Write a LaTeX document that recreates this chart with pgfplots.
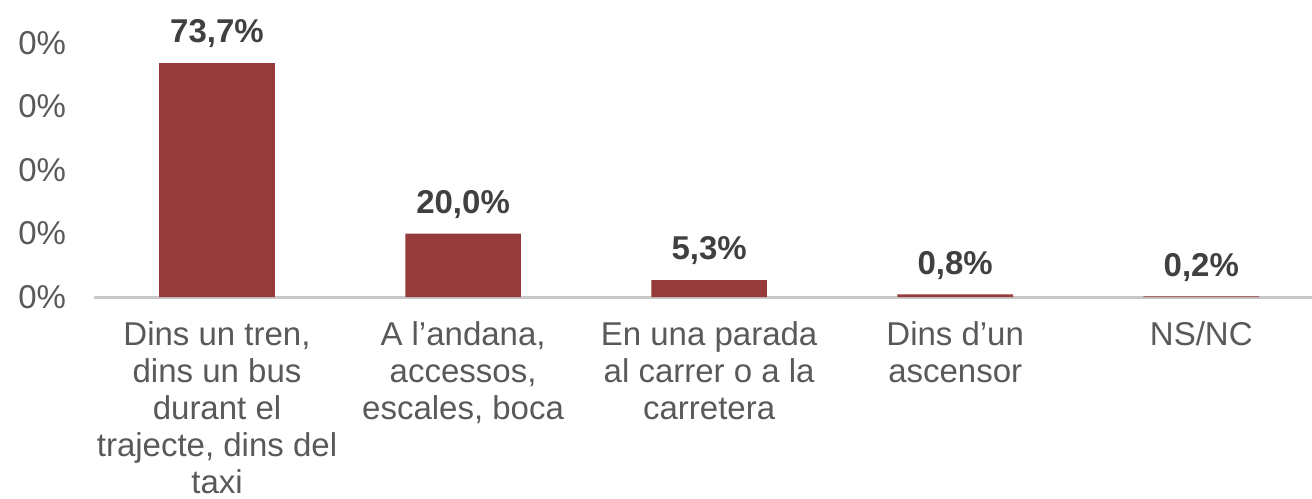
\documentclass[border=0pt]{standalone}
\usepackage{pgfplots}
\pgfplotsset{compat=1.18}
\usepackage{fontspec}
\setmainfont{Liberation Sans}
\definecolor{barred}{RGB}{150,59,57}
\definecolor{labgray}{RGB}{89,89,89}
\definecolor{valgray}{RGB}{64,64,64}
\definecolor{axgray}{RGB}{200,200,200}
\begin{document}
\begin{tikzpicture}
\begin{axis}[
    scale only axis,
    width=406pt, height=84.67pt,
    xmin=-0.5, xmax=4.45,
    ymin=0, ymax=80,
    ybar, bar width=0.47,
    axis x line*=bottom,
    axis y line*=left,
    y axis line style={draw=none},
    x axis line style={axgray, line width=1pt, -},
    major tick length=0,
    xtick={0,1,2,3,4},
    xticklabels={
        {Dins un tren,\\dins un bus\\durant el\\trajecte, dins del\\taxi},
        {A l’andana,\\accessos,\\escales, boca},
        {En una parada\\al carrer o a la\\carretera},
        {Dins d’un\\ascensor},
        {NS/NC}},
    xticklabel style={font=\fontsize{11}{12.3}\selectfont, text=labgray, align=center, anchor=north, yshift=-4.8pt},
    ytick={0,20,40,60,80},
    yticklabels={0\%,0\%,0\%,0\%,0\%},
    yticklabel style={font=\fontsize{11}{12}\selectfont, text=labgray, xshift=-5.8pt},
    /pgf/number format/assume math mode=true,
    nodes near coords={\pgfmathprintnumber[fixed,fixed zerofill,precision=1,use comma]{\pgfplotspointmeta}\%},
    nodes near coords style={font=\fontsize{11}{12}\selectfont\bfseries, text=valgray, yshift=1.5pt},
]
\addplot[fill=barred, draw=none] coordinates {(0,73.7) (1,20.0) (2,5.3) (3,0.8) (4,0.2)};
\coordinate (O) at (axis cs:-0.5,0);
\end{axis}
\pgfresetboundingbox
\path ([xshift=-31.33pt,yshift=-67.33pt]O) rectangle ([xshift=406pt,yshift=99pt]O);
\end{tikzpicture}
\end{document}
